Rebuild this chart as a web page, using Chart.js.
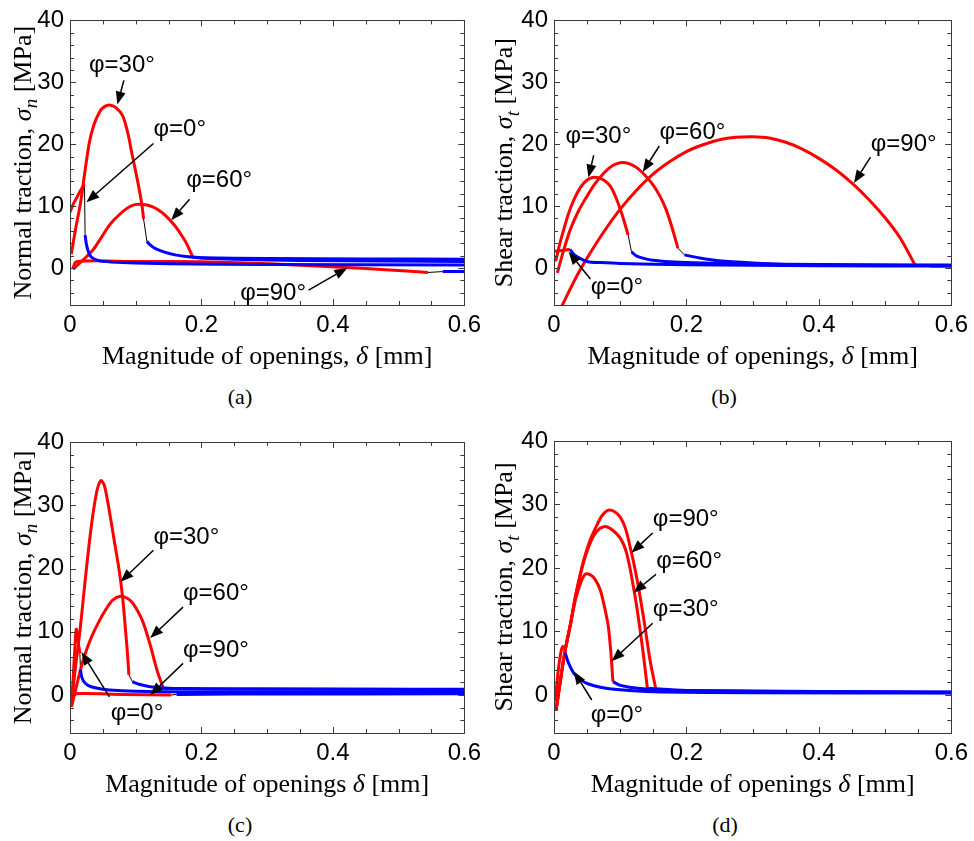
<!DOCTYPE html>
<html>
<head>
<meta charset="utf-8">
<script src="https://cdn.jsdelivr.net/npm/chart.js@4.4.1/dist/chart.umd.min.js"></script>
<style>
body { margin: 0; background: #fff; width: 974px; height: 841px; position: relative; overflow: hidden; }
.panel { position: absolute; width: 487px; height: 380px; }
.cap { position: absolute; font-family: "Liberation Serif", "Times New Roman", serif; font-size: 22px; transform: translate(-50%, -50%); }
</style>
</head>
<body>
<div class="panel" style="left:0;top:0"><canvas id="ca" width="487" height="380"></canvas></div>
<div class="panel" style="left:487px;top:0"><canvas id="cb" width="487" height="380"></canvas></div>
<div class="panel" style="left:0;top:420px"><canvas id="cc" width="487" height="380"></canvas></div>
<div class="panel" style="left:487px;top:420px"><canvas id="cd" width="487" height="380"></canvas></div>
<div class="cap" style="left:240px;top:397px">(a)</div>
<div class="cap" style="left:724px;top:397px">(b)</div>
<div class="cap" style="left:240px;top:825px">(c)</div>
<div class="cap" style="left:725px;top:825px">(d)</div>
<script>
// axis ticks shared by all four panels
const xTicks = [0, 0.2, 0.4, 0.6];
const xMinor = [0.05, 0.1, 0.15, 0.25, 0.3, 0.35, 0.45, 0.5, 0.55];
const yTicks = [0, 10, 20, 30, 40];
const yMinor = [-4, -2, 2, 4, 6, 8, 12, 14, 16, 18, 22, 24, 26, 28, 32, 34, 36, 38];

// (a) normal traction
const aRed0 = [[0, 9], [0.005, 10.3], [0.01, 11.3], [0.016, 12.5], [0.022, 13.5]];
const aLink0 = [[0.022, 13.5], [0.023, 5.3]];
const aBlue0 = [[0.023, 5.3], [0.025, 3.8], [0.028, 2.6], [0.032, 1.8], [0.04, 1.3], [0.05, 1.05], [0.08, 0.85], [0.15, 0.65], [0.3, 0.55], [0.6, 0.45]];
const aRed30 = [[0.002, 2.2], [0.008, 6], [0.016, 10.5], [0.022, 15], [0.029, 20], [0.036, 23], [0.045, 25.2], [0.053, 26.1], [0.062, 26.3], [0.07, 25.9], [0.08, 24.6], [0.088, 21.8], [0.094, 18.6], [0.102, 14.5], [0.109, 10.5], [0.112, 7.9]];
const aLink30 = [[0.112, 7.9], [0.117, 4.3]];
const aBlue30 = [[0.117, 4.3], [0.122, 3.7], [0.13, 3.1], [0.145, 2.5], [0.16, 2.1], [0.18, 1.8], [0.2, 1.65], [0.3, 1.5], [0.45, 1.45], [0.6, 1.4]];
const aRed60 = [[0.005, -0.2], [0.015, 0.8], [0.025, 1.8], [0.035, 2.9], [0.047, 4.8], [0.06, 6.9], [0.072, 8.3], [0.085, 9.5], [0.095, 10.1], [0.104, 10.3], [0.115, 10.2], [0.125, 9.9], [0.134, 9.4], [0.145, 8.5], [0.159, 6.9], [0.169, 5.4], [0.177, 4.0], [0.187, 1.7]];
const aBlue60 = [[0.187, 1.7], [0.2, 1.6], [0.25, 1.4], [0.35, 1.2], [0.6, 1.05]];
const aRed90 = [[0.004, -0.2], [0.01, 1.0], [0.1, 1.02], [0.2, 0.98], [0.28, 0.75], [0.343, 0.47], [0.42, 0.05], [0.48, -0.3], [0.545, -0.74]];
const aLink90 = [[0.545, -0.74], [0.567, -0.6]];
const aBlue90 = [[0.567, -0.6], [0.6, -0.6]];

// (b) shear traction
const bRed0 = [[0, 2.7], [0.012, 2.8], [0.024, 3.0]];
const bBlue0 = [[0.024, 3.0], [0.03, 2.2], [0.04, 1.5], [0.051, 1.0], [0.07, 0.85], [0.1, 0.7], [0.2, 0.5], [0.4, 0.35], [0.6, 0.3]];
const bRed30 = [[0.0025, 1.05], [0.009, 4], [0.015, 6.3], [0.022, 8.8], [0.03, 11], [0.04, 13], [0.05, 14.2], [0.058, 14.6], [0.065, 14.6], [0.075, 14.2], [0.085, 13.2], [0.093, 11.5], [0.1, 9.5], [0.106, 7.5], [0.112, 5.3]];
const bLink30 = [[0.112, 5.3], [0.117, 2.6]];
const bBlue30 = [[0.117, 2.6], [0.125, 1.9], [0.137, 1.5], [0.149, 1.25], [0.175, 1.0], [0.2, 0.85], [0.3, 0.6], [0.45, 0.45], [0.6, 0.4]];
const bRed60 = [[0.005, -0.8], [0.015, 3], [0.025, 6.3], [0.037, 9.2], [0.05, 11.6], [0.062, 13.6], [0.075, 15.3], [0.088, 16.5], [0.1, 17.0], [0.112, 16.9], [0.125, 16.2], [0.137, 15.0], [0.149, 13.5], [0.16, 11.6], [0.169, 9.5], [0.178, 6.6], [0.187, 3.2]];
const bLink60 = [[0.187, 3.2], [0.197, 2.1]];
const bBlue60 = [[0.197, 2.1], [0.22, 1.6], [0.249, 1.15], [0.3, 0.8], [0.349, 0.6], [0.45, 0.5], [0.6, 0.45]];
const bRed90 = [[0.008, -7], [0.02, -4.4], [0.035, -1.2], [0.05, 1.6], [0.075, 5.8], [0.1, 9.5], [0.125, 12.6], [0.15, 15.2], [0.175, 17.2], [0.2, 18.8], [0.225, 19.9], [0.25, 20.7], [0.275, 21.1], [0.3, 21.2], [0.325, 21.0], [0.35, 20.3], [0.375, 19.2], [0.4, 17.7], [0.425, 15.9], [0.45, 13.7], [0.475, 11.1], [0.5, 8.1], [0.523, 4.8], [0.545, 0.5]];
const bLink90 = [[0.545, 0.5], [0.568, 0.3]];
const bBlue90 = [[0.568, 0.3], [0.6, 0.3]];

// (c) normal traction
const cRed0 = [[0.002, -1.9], [0.005, 3], [0.008, 8.5], [0.0095, 10.4], [0.011, 10.0], [0.013, 8], [0.015, 6.6]];
const cLink0 = [[0.015, 6.6], [0.016, 4]];
const cBlue0 = [[0.016, 4], [0.018, 2.8], [0.022, 2], [0.028, 1.5], [0.04, 1.1], [0.06, 0.8], [0.1, 0.6], [0.2, 0.5], [0.6, 0.45]];
const cRed30 = [[0.003, -0.5], [0.009, 5], [0.015, 10], [0.02, 15], [0.025, 20], [0.031, 25.5], [0.037, 30], [0.042, 32.7], [0.047, 33.9], [0.052, 33.2], [0.057, 30.8], [0.062, 27.8], [0.068, 24], [0.0747, 19.8], [0.08, 15.5], [0.0847, 10], [0.0875, 6.5], [0.0896, 3.2]];
const cLink30 = [[0.0896, 3.2], [0.095, 2.1]];
const cBlue30 = [[0.095, 2.1], [0.105, 1.7], [0.12, 1.35], [0.145, 1.1], [0.17, 1.0], [0.25, 0.95], [0.6, 0.9]];
const cRed60 = [[0.0025, -1.8], [0.01, 1.5], [0.02, 5.5], [0.032, 9], [0.045, 11.8], [0.055, 13.6], [0.065, 15], [0.077, 15.6], [0.087, 15.3], [0.095, 14.6], [0.103, 13.3], [0.11, 11.8], [0.117, 9.7], [0.124, 7.2], [0.129, 5.2], [0.134, 3.4], [0.142, 1.05]];
const cBlue60 = [[0.142, 1.05], [0.2, 1.0], [0.3, 0.95], [0.6, 0.85]];
const cRed90 = [[0.004, -0.3], [0.006, 0.2], [0.08, 0.1], [0.154, 0]];
const cLink90 = [[0.154, 0], [0.162, 0.1]];
const cBlue90 = [[0.162, 0.1], [0.25, 0.15], [0.6, 0.2]];

// (d) shear traction
const dRed0 = [[0.002, -1], [0.006, 3.5], [0.01, 6.5], [0.013, 7.6], [0.017, 7.2]];
const dBlue0 = [[0.017, 6.6], [0.022, 5], [0.03, 3.4], [0.04, 2.4], [0.05, 1.8], [0.07, 1.2], [0.1, 0.8], [0.15, 0.5], [0.3, 0.35], [0.6, 0.3]];
const dRed30 = [[0.003, -2.5], [0.01, 2.5], [0.017, 7.1], [0.025, 11.2], [0.032, 14.8], [0.04, 17.6], [0.047, 19], [0.055, 18.9], [0.062, 18.2], [0.07, 16.5], [0.077, 13.5], [0.082, 10.8], [0.086, 6.5], [0.089, 2.1]];
const dBlue30 = [[0.089, 2.1], [0.1, 1.5], [0.13, 1.0], [0.2, 0.6], [0.6, 0.35]];
const dRed60 = [[0.003, -2.5], [0.01, 2.5], [0.017, 7.1], [0.025, 11.2], [0.032, 15.3], [0.04, 19], [0.047, 21.7], [0.055, 24], [0.065, 25.8], [0.075, 26.5], [0.085, 26.2], [0.1, 24.7], [0.11, 22.2], [0.1215, 16.1], [0.129, 11], [0.136, 5.5], [0.141, 1.05]];
const dBlue60 = [[0.141, 1.05], [0.2, 0.7], [0.6, 0.4]];
const dRed90 = [[0.003, -2.5], [0.01, 2.5], [0.017, 7.1], [0.025, 11.2], [0.032, 15.3], [0.04, 19.2], [0.047, 22], [0.055, 24.5], [0.065, 26.8], [0.073, 28.3], [0.082, 29.1], [0.091, 28.9], [0.1, 28], [0.108, 26.2], [0.117, 22.4], [0.123, 19.5], [0.129, 16.1], [0.137, 11], [0.145, 5.5], [0.154, 0.8]];
const dBlue90 = [[0.154, 0.8], [0.2, 0.6], [0.6, 0.45]];

const SERIF = '"Liberation Serif", "Times New Roman", serif';
const SANS = '"Liberation Sans", Arial, sans-serif';
const RED = '#ff0000';
const BLUE = '#0000ff';

const xTitleComma = [['Magnitude of openings, ', 'r'], ['δ', 'i'], [' [mm]', 'r']];
const xTitlePlain = [['Magnitude of openings ', 'r'], ['δ', 'i'], [' [mm]', 'r']];
const yTitleN = [['Normal traction, ', 'r'], ['σ', 'i'], ['n', 's'], [' [MPa]', 'r']];
const yTitleT = [['Shear traction, ', 'r'], ['σ', 'i'], ['t', 's'], [' [MPa]', 'r']];

function line(pts, color, width) {
    return {
        data: pts.map(p => ({ x: p[0], y: p[1] })),
        borderColor: color,
        borderWidth: width,
        pointRadius: 0,
        fill: false,
        tension: width > 1 ? 0.3 : 0
    };
}

function drawRich(ctx, parts, cx, cy, rot, size) {
    const fontOf = s => s === 'r' ? size + 'px ' + SERIF
        : s === 'i' ? 'italic ' + size + 'px ' + SERIF
        : 'italic ' + Math.round(size * 0.72) + 'px ' + SERIF;
    ctx.save();
    ctx.translate(cx, cy);
    ctx.rotate(rot);
    ctx.fillStyle = '#000';
    ctx.textAlign = 'left';
    ctx.textBaseline = 'alphabetic';
    let w = 0;
    parts.forEach(([t, s]) => { ctx.font = fontOf(s); w += ctx.measureText(t).width; });
    let x = -w / 2;
    parts.forEach(([t, s]) => {
        ctx.font = fontOf(s);
        ctx.fillText(t, x, size * 0.33 + (s === 's' ? size * 0.25 : 0));
        x += ctx.measureText(t).width;
    });
    ctx.restore();
}

// box, inward ticks, arrows and labels
function decor(p) {
    return {
        id: 'decor',
        afterDatasetsDraw(chart) {
            const { ctx, chartArea: a, scales: { x, y } } = chart;
            ctx.save();
            ctx.strokeStyle = '#3a3a3a';
            ctx.lineWidth = 1;
            ctx.strokeRect(Math.round(a.left) + 0.5, Math.round(a.top) + 0.5, Math.round(a.right - a.left), Math.round(a.bottom - a.top));
            ctx.beginPath();
            const tickX = (v, len) => {
                const px = Math.round(x.getPixelForValue(v)) + 0.5;
                ctx.moveTo(px, a.bottom); ctx.lineTo(px, a.bottom - len);
                ctx.moveTo(px, a.top); ctx.lineTo(px, a.top + len);
            };
            const tickY = (v, len) => {
                const py = Math.round(y.getPixelForValue(v)) + 0.5;
                ctx.moveTo(a.left, py); ctx.lineTo(a.left + len, py);
                ctx.moveTo(a.right, py); ctx.lineTo(a.right - len, py);
            };
            xTicks.forEach(v => tickX(v, 6));
            xMinor.forEach(v => tickX(v, 4));
            yTicks.forEach(v => tickY(v, 6));
            yMinor.forEach(v => tickY(v, 4));
            ctx.stroke();

            // arrows
            p.notes.forEach(n => {
                const x1 = x.getPixelForValue(n.from[0]), y1 = y.getPixelForValue(n.from[1]);
                const x2 = x.getPixelForValue(n.to[0]), y2 = y.getPixelForValue(n.to[1]);
                const ang = Math.atan2(y2 - y1, x2 - x1);
                const hl = 13, hw = 5;
                const bx = x2 - hl * Math.cos(ang), by = y2 - hl * Math.sin(ang);
                ctx.strokeStyle = '#000';
                ctx.lineWidth = 1.5;
                ctx.beginPath();
                ctx.moveTo(x1, y1); ctx.lineTo(bx, by);
                ctx.stroke();
                ctx.fillStyle = '#000';
                ctx.beginPath();
                ctx.moveTo(x2, y2);
                ctx.lineTo(bx + hw * Math.sin(ang), by - hw * Math.cos(ang));
                ctx.lineTo(bx - hw * Math.sin(ang), by + hw * Math.cos(ang));
                ctx.closePath();
                ctx.fill();
                ctx.font = '24px ' + SANS;
                ctx.textAlign = 'center';
                ctx.textBaseline = 'middle';
                ctx.fillText(n.text, x.getPixelForValue(n.at[0]), y.getPixelForValue(n.at[1]));
            });
            ctx.restore();
        },
        afterDraw(chart) {
            const { ctx, chartArea: a } = chart;
            drawRich(ctx, p.yTitle, p.yTitleX, (a.top + a.bottom) / 2, -Math.PI / 2, 26);
            drawRich(ctx, p.xTitle, (a.left + a.right) / 2, p.xTitleY, 0, 26);
        }
    };
}

function makePanel(p) {
    new Chart(document.getElementById(p.id), {
        type: 'line',
        data: { datasets: p.series },
        options: {
            responsive: false,
            animation: false,
            devicePixelRatio: 1,
            layout: { padding: { left: 0, right: p.padRight, top: p.padTop, bottom: 0 } },
            plugins: { legend: { display: false }, tooltip: { enabled: false } },
            scales: {
                x: {
                    type: 'linear', min: 0, max: 0.6,
                    grid: { display: false, drawTicks: false }, border: { display: false },
                    afterBuildTicks: s => { s.ticks = xTicks.map(v => ({ value: v })); },
                    afterFit: s => { s.height = p.xHeight; },
                    ticks: { color: '#000', padding: 6, maxRotation: 0, font: { family: SANS, size: 24 }, callback: v => String(v) }
                },
                y: {
                    type: 'linear', min: -6, max: 40,
                    grid: { display: false, drawTicks: false }, border: { display: false },
                    afterBuildTicks: s => { s.ticks = yTicks.map(v => ({ value: v })); },
                    afterFit: s => { s.width = p.yWidth; },
                    ticks: { color: '#000', padding: 6, font: { family: SANS, size: 24 } }
                }
            }
        },
        plugins: [decor(p)]
    });
}

makePanel({
    id: 'ca', padTop: 13, padRight: 15, yWidth: 70, xHeight: 75, yTitleX: 22, xTitleY: 355,
    xTitle: xTitleComma, yTitle: yTitleN,
    series: [
        line(aBlue0, BLUE, 3), line(aBlue30, BLUE, 3), line(aBlue60, BLUE, 3), line(aBlue90, BLUE, 3),
        line(aRed0, RED, 3), line(aRed30, RED, 3), line(aRed60, RED, 3), line(aRed90, RED, 3),
        line(aLink0, '#000', 1), line(aLink30, '#000', 1), line(aLink90, '#000', 1)
    ],
    notes: [
        { text: 'φ=30°', at: [0.079, 32.7], from: [0.082, 30.3], to: [0.072, 26.4] },
        { text: 'φ=0°', at: [0.167, 22.4], from: [0.127, 20.1], to: [0.025, 10.6] },
        { text: 'φ=60°', at: [0.227, 14.2], from: [0.182, 11.1], to: [0.154, 7.7] },
        { text: 'φ=90°', at: [0.309, -4.1], from: [0.363, -3.6], to: [0.422, 0] }
    ]
});

makePanel({
    id: 'cb', padTop: 13, padRight: 19, yWidth: 67, xHeight: 75, yTitleX: 16.5, xTitleY: 355,
    xTitle: xTitleComma, yTitle: yTitleT,
    series: [
        line(bBlue0, BLUE, 3), line(bBlue30, BLUE, 3), line(bBlue60, BLUE, 3), line(bBlue90, BLUE, 3),
        line(bRed0, RED, 3), line(bRed30, RED, 3), line(bRed60, RED, 3), line(bRed90, RED, 3),
        line(bLink30, '#000', 1), line(bLink60, '#000', 1), line(bLink90, '#000', 1)
    ],
    notes: [
        { text: 'φ=30°', at: [0.067, 21.3], from: [0.06, 18.2], to: [0.052, 14.6] },
        { text: 'φ=60°', at: [0.209, 21.9], from: [0.159, 19.7], to: [0.134, 15.5] },
        { text: 'φ=90°', at: [0.528, 20.0], from: [0.478, 17.9], to: [0.453, 13.7] },
        { text: 'φ=0°', at: [0.095, -3.2], from: [0.055, -1.8], to: [0.022, 2.6] }
    ]
});

makePanel({
    id: 'cc', padTop: 22, padRight: 15, yWidth: 70, xHeight: 67, yTitleX: 22, xTitleY: 363,
    xTitle: xTitlePlain, yTitle: yTitleN,
    series: [
        line(cBlue0, BLUE, 3), line(cBlue30, BLUE, 3), line(cBlue60, BLUE, 3), line(cBlue90, BLUE, 3),
        line(cRed0, RED, 3), line(cRed30, RED, 3), line(cRed60, RED, 3), line(cRed90, RED, 3),
        line(cLink0, '#000', 1), line(cLink30, '#000', 1), line(cLink90, '#000', 1)
    ],
    notes: [
        { text: 'φ=30°', at: [0.177, 25.0], from: [0.127, 22.9], to: [0.077, 17.9] },
        { text: 'φ=60°', at: [0.222, 16.1], from: [0.172, 13.9], to: [0.122, 9.0] },
        { text: 'φ=90°', at: [0.222, 7.1], from: [0.172, 5.0], to: [0.122, 0] },
        { text: 'φ=0°', at: [0.102, -2.9], from: [0.06, -0.3], to: [0.0175, 6.8] }
    ]
});

makePanel({
    id: 'cd', padTop: 21, padRight: 19, yWidth: 67, xHeight: 67, yTitleX: 16.5, xTitleY: 363,
    xTitle: xTitlePlain, yTitle: yTitleT,
    series: [
        line(dBlue0, BLUE, 3), line(dBlue30, BLUE, 3), line(dBlue60, BLUE, 3), line(dBlue90, BLUE, 3),
        line(dRed0, RED, 3), line(dRed30, RED, 3), line(dRed60, RED, 3), line(dRed90, RED, 3)
    ],
    notes: [
        { text: 'φ=90°', at: [0.199, 27.6], from: [0.149, 25.5], to: [0.117, 22.4] },
        { text: 'φ=60°', at: [0.204, 21.1], from: [0.154, 19.0], to: [0.12, 16.1] },
        { text: 'φ=30°', at: [0.199, 13.4], from: [0.149, 11.3], to: [0.087, 5.3] },
        { text: 'φ=0°', at: [0.095, -3.2], from: [0.057, -0.8], to: [0.03, 3.7] }
    ]
});
</script>
</body>
</html>
